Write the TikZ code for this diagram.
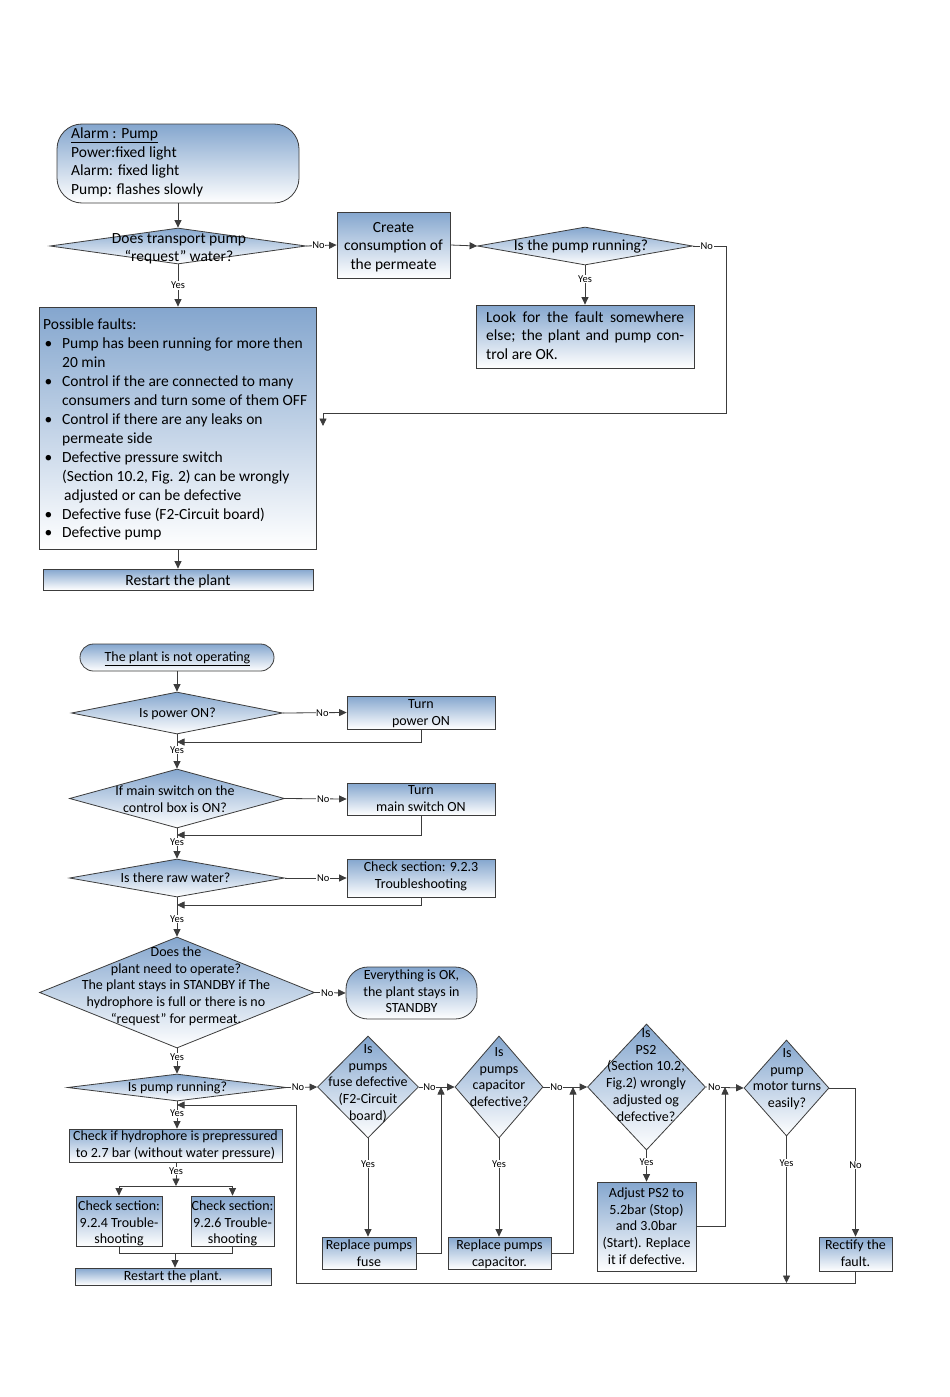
\documentclass[tikz,border=0pt]{standalone}
\usepackage{fontspec}
\setmainfont{Carlito}
\usetikzlibrary{arrows.meta,shapes.geometric}
\definecolor{fillb}{RGB}{132,166,206}
\definecolor{linec}{RGB}{60,60,60}
\newcommand{\mybul}{\makebox[19pt][l]{\hspace{1.5pt}\textbullet}}
\newcommand{\myind}{\hspace*{19pt}}
\tikzset{
  base/.style={draw=linec, line width=0.8pt, top color=fillb, bottom color=white, inner sep=0pt},
  box/.style={base, rectangle},
  dia/.style={base, diamond},
  arr/.style={draw=linec, line width=0.8pt, -{Triangle[length=7.5pt,width=7pt]}},
  ln/.style={draw=linec, line width=0.8pt},
  lbl/.style={font=\fontsize{10.5}{12}\selectfont, fill=white, inner sep=0.6pt},
  tA/.style={inner sep=0pt, anchor=base, font=\fontsize{15.5}{18.7}\selectfont},
  tAl/.style={inner sep=0pt, anchor=base west, font=\fontsize{15.5}{18.7}\selectfont},
  tB/.style={inner sep=0pt, anchor=base, font=\fontsize{14}{16.7}\selectfont},
}
\begin{document}
\begin{tikzpicture}[x=1pt,y=-1pt]
\fill[white] (0,0) rectangle (950,1397);
\useasboundingbox (0,0) rectangle (950,1397);

% ---------------- top chart ----------------
\node[box, rounded corners=25pt, minimum width=242pt, minimum height=79pt] (alarm) at (178,163.5) {};
\node[dia, minimum width=256pt, minimum height=36pt] (d1) at (178,246) {};
\node[box, minimum width=113pt, minimum height=66pt] (create) at (393.5,245) {};
\node[dia, minimum width=215pt, minimum height=38pt] (d2) at (585,246) {};
\node[box, minimum width=218pt, minimum height=63pt] (look) at (585,336.5) {};
\node[box, minimum width=277pt, minimum height=242pt] (fault) at (178,428) {};
\node[box, minimum width=270pt, minimum height=21pt] (restart) at (178,579.5) {};

\node[tAl] (t-alarm) at (71,138.5) {\parbox[t]{220pt}{\raggedright\underline{Alarm : Pump}\\Power:fixed light\\Alarm: fixed light\\Pump: flashes slowly}};
\node[tA] (t-d1) at (179,243) {\parbox[t]{240pt}{\centering Does transport pump\\“request” water?}};
\node[tA] (t-create) at (393.5,232) {\parbox[t]{110pt}{\centering Create\\consumption of\\the permeate}};
\node[tA] (t-d2) at (581,250) {Is the pump running?};
\node[tAl] (t-look) at (486,322) {\parbox[t]{198pt}{\makebox[198pt][s]{Look for the fault somewhere}\\\makebox[198pt][s]{else; the plant and pump con-}\\trol are OK.}};
\node[tAl, font=\fontsize{15.5}{18.95}\selectfont] (t-fault) at (43,329.5) {\parbox[t]{272pt}{\raggedright
Possible faults:\\
\mybul Pump has been running for more then\\
\myind 20 min\\
\mybul Control if the are connected to many\\
\myind consumers and turn some of them OFF\\
\mybul Control if there are any leaks on\\
\myind permeate side\\
\mybul Defective pressure switch\\
\myind (Section 10.2, Fig. 2) can be wrongly\\
\myind\hspace*{2pt}adjusted or can be defective\\
\mybul Defective fuse (F2-Circuit board)\\
\mybul Defective pump}};
\node[tA] (t-restart) at (178,585) {Restart the plant};

\coordinate (c2a) at (726,246);
\coordinate (c2b) at (323,413);
\coordinate (c2c) at (323,426);
\draw[arr] (alarm.south) -- (d1.north);
\draw[arr] (d1.east) -- node[lbl, pos=0.4]{No} (create.west);
\draw[arr] (d1.south) -- node[lbl]{Yes} (fault.north);
\draw[arr] (create.east) -- (d2.west);
\draw[arr] (d2.south) -- node[lbl, pos=0.35]{Yes} (look.north);
\draw[arr] (d2.east) -- node[lbl, pos=0.42]{No} (c2a) |- (c2b) -- (c2c);
\draw[arr] (fault.south) -- (restart.north);

% ---------------- bottom chart ----------------
\node[box, rounded corners=13.5pt, minimum width=194pt, minimum height=27pt] (start) at (177,657.5) {};
\node[dia, minimum width=211pt, minimum height=42pt] (dp) at (177,713) {};
\node[box, minimum width=148pt, minimum height=33pt] (bp) at (421,712.5) {};
\node[dia, minimum width=215pt, minimum height=59pt] (dm) at (177,798.5) {};
\node[box, minimum width=148pt, minimum height=32pt] (bm) at (421,799) {};
\node[dia, minimum width=215pt, minimum height=38pt] (dw) at (177,878) {};
\node[box, minimum width=148pt, minimum height=38pt] (bw) at (421,878) {};
\node[dia, minimum width=275pt, minimum height=111pt] (dn) at (177,992.5) {};
\node[box, rounded corners=22pt, minimum width=131pt, minimum height=52pt] (ok) at (411.5,993) {};
\node[dia, minimum width=219pt, minimum height=27pt] (dr) at (177,1087.5) {};
\node[box, minimum width=213pt, minimum height=33pt] (hydro) at (176,1145.5) {};
\node[box, minimum width=86pt, minimum height=50pt] (c1) at (119,1221) {};
\node[box, minimum width=83pt, minimum height=50pt] (c2) at (232.5,1221) {};
\node[box, minimum width=196pt, minimum height=17pt] (r2) at (173,1276.5) {};

\node[dia, minimum width=101pt, minimum height=102pt] (df) at (368,1087) {};
\node[box, minimum width=94pt, minimum height=32pt] (bf) at (369,1253) {};
\node[dia, minimum width=88pt, minimum height=102pt] (dc) at (499,1087) {};
\node[box, minimum width=103pt, minimum height=32pt] (bc) at (499.5,1253) {};
\node[dia, minimum width=118pt, minimum height=126pt] (dps) at (646.5,1087) {};
\node[box, minimum width=99pt, minimum height=89pt] (bps) at (646.5,1226.5) {};
\node[dia, minimum width=85pt, minimum height=96pt] (dmt) at (786.5,1088) {};
\node[box, minimum width=73pt, minimum height=34pt] (rect) at (855.5,1254) {};

\node[tB] (t-start) at (177.5,661.5) {\underline{The plant is not operating}};
\node[tB] (t-dp) at (177.5,717.5) {Is power ON?};
\node[tB] (t-bp) at (421,708.5) {\parbox[t]{140pt}{\centering Turn\\power ON}};
\node[tB] (t-dm) at (175,795.5) {\parbox[t]{200pt}{\centering If main switch on the\\control box is ON?}};
\node[tB] (t-bm) at (421,794.5) {\parbox[t]{140pt}{\centering Turn\\main switch ON}};
\node[tB] (t-dw) at (175.5,882.5) {Is there raw water?};
\node[tB] (t-bw) at (421,871.5) {\parbox[t]{140pt}{\centering Check section: 9.2.3\\Troubleshooting}};
\node[tB] (t-dn) at (176,956.5) {\parbox[t]{260pt}{\centering Does the\\plant need to operate?\\The plant stays in STANDBY if The\\hydrophore is full or there is no\\“request” for permeat.}};
\node[tB] (t-ok) at (411.5,979.5) {\parbox[t]{125pt}{\centering Everything is OK,\\the plant stays in\\STANDBY}};
\node[tB] (t-dr) at (177.5,1091.5) {Is pump running?};
\node[tB] (t-hydro) at (175.5,1140.5) {\parbox[t]{230pt}{\centering Check if hydrophore is prepressured\\to 2.7 bar (without water pressure)}};
\node[tB] (t-c1) at (119,1210.5) {\parbox[t]{90pt}{\centering Check section:\\9.2.4 Trouble-\\shooting}};
\node[tB] (t-c2) at (232.5,1210.5) {\parbox[t]{90pt}{\centering Check section:\\9.2.6 Trouble-\\shooting}};
\node[tB] (t-r2) at (173,1280.5) {Restart the plant.};
\node[tB] (t-df) at (368,1053.5) {\parbox[t]{110pt}{\centering Is\\pumps\\fuse defective\\(F2-Circuit\\board)}};
\node[tB] (t-dc) at (499,1056.5) {\parbox[t]{100pt}{\centering Is\\pumps\\capacitor\\defective?}};
\node[tB] (t-dps) at (646,1037.5) {\parbox[t]{120pt}{\centering Is\\PS2\\(Section 10.2,\\Fig.2) wrongly\\adjusted og\\defective?}};
\node[tB] (t-dmt) at (787,1057.5) {\parbox[t]{100pt}{\centering Is\\pump\\motor turns\\easily?}};
\node[tB] (t-bf) at (369,1249.5) {\parbox[t]{100pt}{\centering Replace pumps\\fuse}};
\node[tB] (t-bc) at (499.5,1249.5) {\parbox[t]{110pt}{\centering Replace pumps\\capacitor.}};
\node[tB] (t-bps) at (646.5,1197.5) {\parbox[t]{105pt}{\centering Adjust PS2 to\\5.2bar (Stop)\\and 3.0bar\\(Start). Replace\\it if defective.}};
\node[tB] (t-rect) at (855.5,1249.5) {\parbox[t]{80pt}{\centering Rectify the\\fault.}};

% connectors, bottom
\coordinate (r1) at (177,742);
\coordinate (r2c) at (177,835);
\coordinate (r3) at (177,905);
\coordinate (br) at (176,1186);
\coordinate (jn) at (175,1253);
\coordinate (rf) at (441,1087);
\coordinate (rc) at (573,1087);
\coordinate (rp) at (725,1087);
\coordinate (lp1) at (296,1283);
\coordinate (lp2) at (296,1105);
\coordinate (lp3) at (177,1105);

\draw[arr] (start.south) -- (dp.north);
\draw[arr] (dp.east) -- node[lbl, pos=0.62]{No} (bp.west);
\draw[arr] (bp.south) |- (r1);
\draw[arr] (dp.south) -- node[lbl, pos=0.46]{Yes} (dm.north);
\draw[arr] (dm.east) -- node[lbl, pos=0.62]{No} (bm.west);
\draw[arr] (bm.south) |- (r2c);
\draw[arr] (dm.south) -- node[lbl, pos=0.45]{Yes} (dw.north);
\draw[arr] (dw.east) -- node[lbl, pos=0.62]{No} (bw.west);
\draw[arr] (bw.south) |- (r3);
\draw[arr] (dw.south) -- node[lbl, pos=0.55]{Yes} (dn.north);
\draw[arr] (dn.east) -- node[lbl, pos=0.4]{No} (ok.west);
\draw[arr] (dn.south) -- node[lbl, pos=0.35]{Yes} (dr.north);
\draw[arr] (dr.south) -- node[lbl, pos=0.45]{Yes} (dr.south |- hydro.north);
\draw[arr] (hydro.south) -- node[lbl, pos=0.35]{Yes} (br);
\draw[ln] (c1.north |- br) -- (c2.north |- br);
\draw[arr] (c1.north |- br) -- (c1.north);
\draw[arr] (c2.north |- br) -- (c2.north);
\draw[ln] (c1.south) |- (jn);
\draw[ln] (c2.south) |- (jn);
\draw[arr] (jn) -- (jn |- r2.north);

\draw[arr] (dr.east) -- node[lbl, pos=0.37]{No} (df.west);
\draw[arr] (df.east) -- node[lbl, pos=0.3]{No} (dc.west);
\draw[arr] (dc.east) -- node[lbl, pos=0.3]{No} (dps.west);
\draw[arr] (dps.east) -- node[lbl, pos=0.22]{No} (dmt.west);
\draw[arr] (df.south) -- node[lbl, pos=0.26]{Yes} (df.south |- bf.north);
\draw[arr] (dc.south) -- node[lbl, pos=0.26]{Yes} (dc.south |- bc.north);
\draw[arr] (dps.south) -- node[lbl, pos=0.37]{Yes} (dps.south |- bps.north);
\draw[arr] (bf.east) -| (rf);
\draw[arr] (bc.east) -| (rc);
\draw[arr] (bps.east) -| (rp);
\draw[arr] (dmt.east) -| node[lbl, pos=0.76]{No} (rect.north);
\draw[arr] (dmt.south) -- node[lbl, pos=0.18]{Yes} (dmt.south |- lp1);
\draw[arr] (rect.south) |- (lp1) -- (lp2) -- (lp3);
\end{tikzpicture}
\end{document}
